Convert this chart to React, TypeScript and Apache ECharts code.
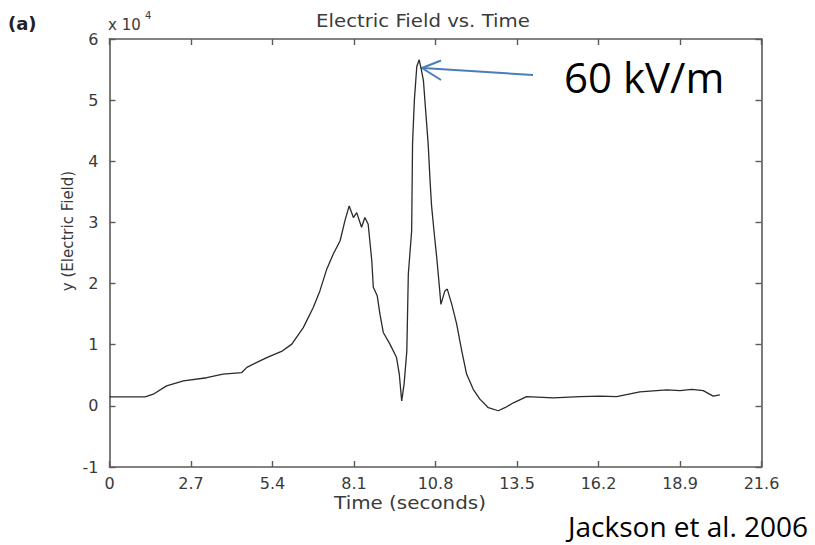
import React, { useEffect, useRef } from "react";
import * as echarts from "echarts";

const times = [
  0, 1.18, 1.45, 1.89, 2.45, 3.22, 3.76, 4.38, 4.55, 5.21, 5.7, 6.04, 6.42, 6.75, 6.97, 7.2, 7.41, 7.64,
  7.8, 7.94, 8.08, 8.19, 8.35, 8.46, 8.57, 8.69, 8.74, 8.87, 8.96, 9.07, 9.29, 9.51, 9.6, 9.68, 9.76,
  9.85, 9.9, 10.01, 10.04, 10.1, 10.18, 10.26, 10.33, 10.4, 10.56, 10.62, 10.67, 10.75, 10.84, 10.93,
  10.98, 11.11, 11.19, 11.34, 11.5, 11.67, 11.83, 12.05, 12.27, 12.55, 12.88, 13.1, 13.38, 13.82,
  14.7, 15.59, 16.25, 16.8, 17.57, 18.46, 18.9, 19.29, 19.67, 20.0, 20.22,
];
const field = [
  1470, 1470, 1900, 3270, 4100, 4600, 5200, 5450, 6300, 7900, 8900, 10100, 12800, 16100, 18800, 22400,
  24800, 27000, 30300, 32700, 30800, 31600, 29200, 30800, 29700, 23700, 19400, 18000, 15000, 12000,
  10100, 7900, 5200, 800, 3600, 9000, 21600, 28600, 43000, 50000, 55500, 56600, 55000, 53200, 42600,
  36800, 32700, 28600, 24300, 19400, 16600, 18800, 19100, 16600, 13400, 9000, 5200, 2700, 1100, -300,
  -800, -300, 500, 1500, 1300, 1500, 1600, 1500, 2300, 2600, 2500, 2700, 2500, 1600, 1800,
];
const xTicks = [0, 2.7, 5.4, 8.1, 10.8, 13.5, 16.2, 18.9, 21.6];
const yTicks = [-1, 0, 1, 2, 3, 4, 5, 6];

const FONT = "DejaVu Sans";
const AX = "#5a5a5a";
const TXT = "#3a3a3a";

export default function App() {
  const ref = useRef<HTMLDivElement>(null);
  useEffect(() => {
    if (!ref.current) return;
    const chart = echarts.init(ref.current, null, { renderer: "svg" });
    const xStep = xTicks[1] - xTicks[0];
    const xMin = xTicks[0];
    const xMax = xTicks[xTicks.length - 1];
    const yMin = yTicks[0] * 10000;
    const yMax = yTicks[yTicks.length - 1] * 10000;
    const line = { show: true, onZero: false, lineStyle: { color: AX, width: 1.6 } };
    const tick = { show: true, inside: true, length: 6, lineStyle: { color: AX, width: 1.4 } };
    const baseX = {
      type: "value",
      min: xMin,
      max: xMax,
      interval: xStep,
      splitLine: { show: false },
      axisLine: line,
      axisTick: tick,
    };
    const baseY = {
      type: "value",
      min: yMin,
      max: yMax,
      interval: 10000,
      splitLine: { show: false },
      axisLine: line,
      axisTick: tick,
    };
    chart.setOption({
      animation: false,
      backgroundColor: "#ffffff",
      grid: { left: 109.5, top: 39, width: 652, height: 428, containLabel: false },
      xAxis: [
        {
          ...baseX,
          position: "bottom",
          axisLabel: {
            show: true,
            margin: 8,
            color: TXT,
            fontFamily: FONT,
            fontSize: 16,
            formatter: (v: number) => {
              const r = Math.round(v * 10) / 10;
              return r === 0 ? "0" : r.toFixed(1);
            },
          },
        },
        { ...baseX, position: "top", axisLabel: { show: false } },
      ],
      yAxis: [
        {
          ...baseY,
          position: "left",
          axisLabel: {
            show: true,
            margin: 11,
            color: TXT,
            fontFamily: FONT,
            fontSize: 16,
            formatter: (v: number) => String(Math.round(v / 10000)),
          },
        },
        { ...baseY, position: "right", axisLabel: { show: false } },
      ],
      series: [
        {
          type: "line",
          xAxisIndex: 0,
          yAxisIndex: 0,
          data: times.map((t, i) => [t, field[i]]),
          showSymbol: false,
          symbol: "none",
          lineStyle: { color: "#2a2a2a", width: 1.3 },
        },
      ],
      graphic: [
        {
          type: "text",
          x: 8,
          y: 23,
          style: {
            text: "(a)",
            fontFamily: FONT,
            fontSize: 18,
            fontWeight: "bold",
            fill: "#222",
            verticalAlign: "middle",
          },
        },
        {
          type: "text",
          x: 423,
          y: 21,
          scaleX: 1.16,
          style: {
            text: "Electric Field vs. Time",
            fontFamily: FONT,
            fontSize: 17,
            fill: TXT,
            align: "center",
            verticalAlign: "middle",
          },
        },
        {
          type: "text",
          x: 108,
          y: 25,
          style: { text: "x 10", fontFamily: FONT, fontSize: 15, fill: TXT, verticalAlign: "middle" },
        },
        {
          type: "text",
          x: 145,
          y: 15,
          style: { text: "4", fontFamily: FONT, fontSize: 10, fill: TXT, verticalAlign: "middle" },
        },
        {
          type: "text",
          x: 68,
          y: 231,
          rotation: Math.PI / 2,
          style: {
            text: "y (Electric Field)",
            fontFamily: FONT,
            fontSize: 15,
            fill: TXT,
            align: "center",
            verticalAlign: "middle",
          },
        },
        {
          type: "text",
          x: 410,
          y: 503,
          scaleX: 1.17,
          style: {
            text: "Time (seconds)",
            fontFamily: FONT,
            fontSize: 17,
            fill: TXT,
            align: "center",
            verticalAlign: "middle",
          },
        },
        {
          type: "line",
          shape: { x1: 533, y1: 75, x2: 423, y2: 68 },
          style: { stroke: "#4a7ebb", lineWidth: 2 },
        },
        {
          type: "polyline",
          shape: { points: [[441, 60.5], [422, 68], [441, 80]] },
          style: { stroke: "#4a7ebb", lineWidth: 2, fill: "none" },
        },
        {
          type: "text",
          x: 564,
          y: 76,
          style: { text: "60 kV/m", fontFamily: "Open Sans", fontSize: 42, fill: "#000", verticalAlign: "middle" },
        },
        {
          type: "text",
          x: 568,
          y: 526,
          style: {
            text: "Jackson et al. 2006",
            fontFamily: "Open Sans",
            fontSize: 28,
            fill: "#000",
            verticalAlign: "middle",
          },
        },
      ],
    });
    return () => chart.dispose();
  }, []);
  return (
    <div
      ref={ref}
      style={{ position: "absolute", left: 0, top: 0, width: 815, height: 545, background: "#fff" }}
    />
  );
}
